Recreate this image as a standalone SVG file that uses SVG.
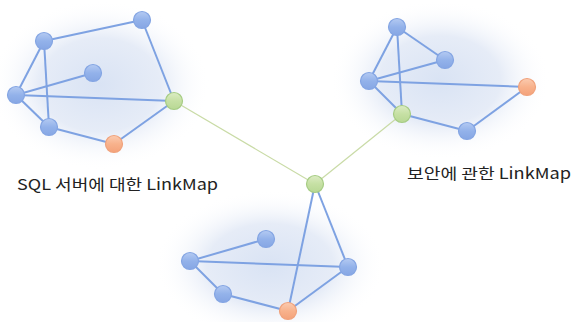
<svg xmlns="http://www.w3.org/2000/svg" width="573" height="322" viewBox="0 0 573 322">
<defs>
<radialGradient id="glow" cx="50%" cy="50%" r="50%">
<stop offset="0" stop-color="#d9e3f4"/>
<stop offset="0.55" stop-color="#e6ecf7"/>
<stop offset="1" stop-color="#ffffff" stop-opacity="0"/>
</radialGradient>
<linearGradient id="gBlue" x1="0" y1="0" x2="0" y2="1">
<stop offset="0" stop-color="#b4caf2"/>
<stop offset="0.5" stop-color="#93b2ea"/>
<stop offset="1" stop-color="#86a6e4"/>
</linearGradient>
<linearGradient id="gGreen" x1="0" y1="0" x2="0" y2="1">
<stop offset="0" stop-color="#dcecc4"/>
<stop offset="0.5" stop-color="#c6e0a4"/>
<stop offset="1" stop-color="#b8d894"/>
</linearGradient>
<linearGradient id="gOrange" x1="0" y1="0" x2="0" y2="1">
<stop offset="0" stop-color="#fbcbb0"/>
<stop offset="0.5" stop-color="#f8b28c"/>
<stop offset="1" stop-color="#f4a27a"/>
</linearGradient>
</defs>
<style>
.edge{stroke:#7ea2e2;stroke-width:2;fill:none}
.link{stroke:#c9dba6;stroke-width:1.2;fill:none}
.b{fill:url(#gBlue);stroke:#84a5e3;stroke-width:1.2}
.g{fill:url(#gGreen);stroke:#a6cc84;stroke-width:1.2}
.o{fill:url(#gOrange);stroke:#f0a27c;stroke-width:1.2}
.lbl{font-family:"Noto Sans CJK KR","Liberation Sans",sans-serif;font-size:15px;fill:#222}
</style>
<rect width="573" height="322" fill="#ffffff"/>
<g id="glows">
<ellipse cx="100" cy="85" rx="110" ry="85" fill="url(#glow)"/>
<ellipse cx="440" cy="80" rx="110" ry="80" fill="url(#glow)"/>
<ellipse cx="270" cy="265" rx="115" ry="75" fill="url(#glow)"/>
</g>
<g id="connectors">
<line class="link" x1="174" y1="101" x2="315" y2="184"/>
<line class="link" x1="402" y1="114" x2="315" y2="184"/>
<line class="edge" x1="44" y1="41" x2="142" y2="20"/>
<line class="edge" x1="142" y1="20" x2="174" y2="101"/>
<line class="edge" x1="44" y1="41" x2="16" y2="95"/>
<line class="edge" x1="44" y1="41" x2="49" y2="127"/>
<line class="edge" x1="16" y1="95" x2="93" y2="73"/>
<line class="edge" x1="16" y1="95" x2="174" y2="101"/>
<line class="edge" x1="16" y1="95" x2="49" y2="127"/>
<line class="edge" x1="49" y1="127" x2="114" y2="144"/>
<line class="edge" x1="114" y1="144" x2="174" y2="101"/>
<line class="edge" x1="397" y1="27" x2="445" y2="60"/>
<line class="edge" x1="397" y1="27" x2="369" y2="81"/>
<line class="edge" x1="397" y1="27" x2="402" y2="114"/>
<line class="edge" x1="369" y1="81" x2="445" y2="60"/>
<line class="edge" x1="369" y1="81" x2="527" y2="87"/>
<line class="edge" x1="369" y1="81" x2="402" y2="114"/>
<line class="edge" x1="402" y1="114" x2="467" y2="131"/>
<line class="edge" x1="467" y1="131" x2="527" y2="87"/>
<line class="edge" x1="315" y1="184" x2="348" y2="267"/>
<line class="edge" x1="315" y1="184" x2="288" y2="311"/>
<line class="edge" x1="190" y1="261" x2="266" y2="239"/>
<line class="edge" x1="190" y1="261" x2="348" y2="267"/>
<line class="edge" x1="190" y1="261" x2="223" y2="294"/>
<line class="edge" x1="223" y1="294" x2="288" y2="311"/>
<line class="edge" x1="288" y1="311" x2="348" y2="267"/>
</g>
<g id="n1"><circle class="b" cx="142" cy="20" r="8.5"/></g>
<g id="n2"><circle class="b" cx="44" cy="41" r="8.5"/></g>
<g id="n3"><circle class="b" cx="93" cy="73" r="8.5"/></g>
<g id="n4"><circle class="b" cx="16" cy="95" r="8.5"/></g>
<g id="n5"><circle class="b" cx="49" cy="127" r="8.5"/></g>
<g id="n6"><circle class="o" cx="114" cy="144" r="8.5"/></g>
<g id="n7"><circle class="g" cx="174" cy="101" r="8.5"/></g>
<g id="n8"><circle class="b" cx="397" cy="27" r="8.5"/></g>
<g id="n9"><circle class="b" cx="445" cy="60" r="8.5"/></g>
<g id="n10"><circle class="b" cx="369" cy="81" r="8.5"/></g>
<g id="n11"><circle class="o" cx="527" cy="87" r="8.5"/></g>
<g id="n12"><circle class="g" cx="402" cy="114" r="8.5"/></g>
<g id="n13"><circle class="b" cx="467" cy="131" r="8.5"/></g>
<g id="n14"><circle class="g" cx="315" cy="184" r="8.5"/></g>
<g id="n15"><circle class="b" cx="266" cy="239" r="8.5"/></g>
<g id="n16"><circle class="b" cx="190" cy="261" r="8.5"/></g>
<g id="n17"><circle class="b" cx="348" cy="267" r="8.5"/></g>
<g id="n18"><circle class="b" cx="223" cy="294" r="8.5"/></g>
<g id="n19"><circle class="o" cx="288" cy="311" r="8.5"/></g>
<g id="labels">
<text class="lbl" x="17" y="190" textLength="201" lengthAdjust="spacingAndGlyphs">SQL 서버에 대한 LinkMap</text>
<text class="lbl" x="407" y="179" textLength="164" lengthAdjust="spacingAndGlyphs">보안에 관한 LinkMap</text>
</g>
</svg>
